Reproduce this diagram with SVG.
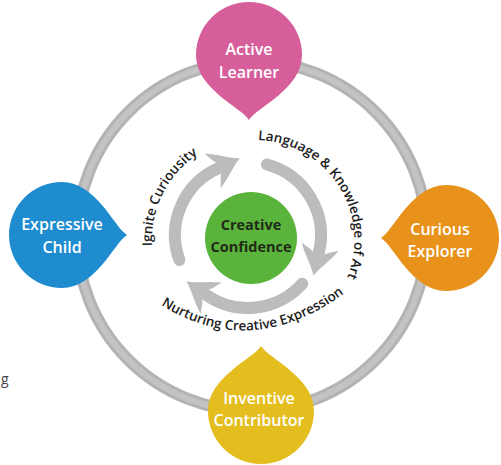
<svg xmlns="http://www.w3.org/2000/svg" xmlns:xlink="http://www.w3.org/1999/xlink" width="501" height="465" viewBox="0 0 501 465">
  <style>
    .node-label { font-family: "Open Sans", "Noto Sans", sans-serif; font-weight: 600; font-size: 16px; fill: #ffffff; text-anchor: middle; }
    .center-label { font-family: "Open Sans", "Noto Sans", sans-serif; font-weight: 700; font-size: 14.5px; fill: #1f2a18; text-anchor: middle; }
    .arc-label { font-family: "Open Sans", "Noto Sans", sans-serif; font-weight: 600; font-size: 13.5px; fill: #1c1c1c; }
    .shaft { fill: none; stroke: #bcbcbc; stroke-width: 12; stroke-linecap: round; }
    .head { fill: #bcbcbc; }
  </style>
  <defs>
    <path id="drop" d="M0,65 C-8,52 -53,34 -53,0 A53,53 0 0 1 53,0 C53,34 8,52 0,65 Z"/>
    <path id="ahead" d="M25,0 C16,-4 7,-13 -5,-19 C-1,-11 0,-7 3,-5 L3,5 C0,7 -1,11 -5,19 C7,13 16,4 25,0 Z"/>
    <path id="p-ignite" d="M152.1,246 A103,103 0 0 1 219.8,143.2"/>
    <path id="p-language" d="M258,140 A100,100 0 0 1 341,290"/>
    <path id="p-nurturing" d="M161,305 Q254,363 350,289"/>
  </defs>
  <rect width="501" height="465" fill="#ffffff"/>

  <g id="connectors">
    <circle cx="252" cy="236" r="175" fill="none" stroke="#b3b3b3" stroke-width="12"/>
    <circle cx="252" cy="236" r="175" fill="none" stroke="#c3c3c3" stroke-width="6"/>
    <path class="shaft" d="M179.4,260 A73,73 0 0 1 218.3,168.3"/>
    <use xlink:href="#ahead" class="head" transform="translate(217.15,168.84) rotate(335)"/>
    <path class="shaft" d="M266.9,164.5 A73,73 0 0 1 318.8,252.7"/>
    <use xlink:href="#ahead" class="head" transform="translate(319.1,251.4) rotate(103)"/>
    <path class="shaft" d="M302.2,283.8 A73,73 0 0 1 206.1,294.8"/>
    <use xlink:href="#ahead" class="head" transform="translate(207.2,295.5) rotate(214)"/>
  </g>

  <g id="arc-labels">
    <text class="arc-label"><textPath xlink:href="#p-ignite">Ignite Curiousity</textPath></text>
    <text class="arc-label"><textPath xlink:href="#p-language">Language &amp; Knowledge of Art</textPath></text>
    <text class="arc-label"><textPath xlink:href="#p-nurturing">Nurturing Creative Expression</textPath></text>
  </g>

  <g id="node-active-learner">
    <use xlink:href="#drop" fill="#d65f9b" transform="translate(249,55)"/>
    <text class="node-label" x="249" y="55">Active</text>
    <text class="node-label" x="249" y="78">Learner</text>
  </g>
  <g id="node-expressive-child">
    <use xlink:href="#drop" fill="#1e8ccf" transform="translate(62,235) rotate(-90)"/>
    <text class="node-label" x="62" y="230">Expressive</text>
    <text class="node-label" x="62" y="253">Child</text>
  </g>
  <g id="node-curious-explorer">
    <use xlink:href="#drop" fill="#e8921c" transform="translate(446,238) rotate(90)"/>
    <text class="node-label" x="440" y="235">Curious</text>
    <text class="node-label" x="440" y="257">Explorer</text>
  </g>
  <g id="node-inventive-contributor">
    <use xlink:href="#drop" fill="#e4bd1f" transform="translate(261,411) rotate(180)"/>
    <text class="node-label" x="259" y="404">Inventive</text>
    <text class="node-label" x="259" y="426">Contributor</text>
  </g>
  <g id="node-creative-confidence">
    <circle cx="251" cy="238" r="46" fill="#5ab43c"/>
    <text class="center-label" x="251" y="230">Creative</text>
    <text class="center-label" x="251" y="252">Confidence</text>
  </g>

  <text x="1" y="384" font-family="Open Sans, sans-serif" font-size="14" fill="#444444">g</text>
</svg>
